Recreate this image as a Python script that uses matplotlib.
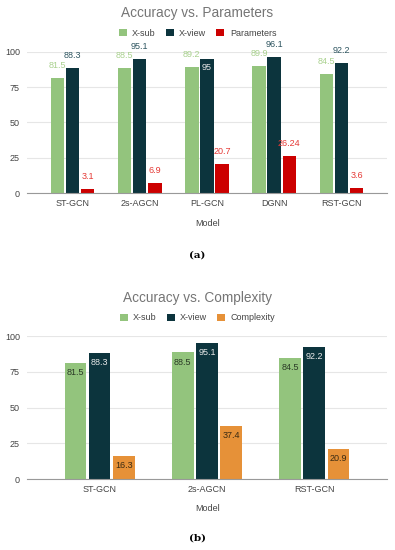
import matplotlib.pyplot as plt
import numpy as np

plt.rcParams['font.family'] = ['Liberation Sans', 'DejaVu Sans']

# chart (a)
models_a = ['ST-GCN', '2s-AGCN', 'PL-GCN', 'DGNN', 'RST-GCN']
xsub_a = [81.5, 88.5, 89.2, 89.9, 84.5]
xview_a = [88.3, 95.1, 95, 96.1, 92.2]
params_a = [3.1, 6.9, 20.7, 26.24, 3.6]
param_labels = ['3.1', '6.9', '20.7', '26.24', '3.6']

# chart (b)
models_b = ['ST-GCN', '2s-AGCN', 'RST-GCN']
xsub_b = [81.5, 88.5, 84.5]
xview_b = [88.3, 95.1, 92.2]
complexity_b = [16.3, 37.4, 20.9]

GREEN = '#93c47d'
DARK = '#0c343d'
RED = '#cc0000'
ORANGE = '#e69138'
TITLE_C = '#757575'
TICK_C = '#444444'

fig = plt.figure(figsize=(3.95, 5.5), dpi=100)


def style_axes(ax, n):
    ax.set_ylim(0, 100)
    ax.set_yticks([0, 25, 50, 75, 100])
    ax.set_xlim(-0.68, n - 1 + 0.68)
    ax.grid(axis='y', color='#e6e6e6', linewidth=0.8)
    ax.set_axisbelow(True)
    for s in ['top', 'right', 'left']:
        ax.spines[s].set_visible(False)
    ax.spines['bottom'].set_color('#999999')
    ax.tick_params(axis='both', length=0, labelsize=6.5, colors=TICK_C, pad=4)
    ax.tick_params(axis='y', pad=5)


def legend_row(handles, labels, y):
    fig.legend(handles, labels, loc='center', bbox_to_anchor=(0.5, y), ncol=3,
               frameon=False, fontsize=6.5, handlelength=0.9, handleheight=0.9,
               columnspacing=1.1, handletextpad=0.6, labelcolor=TICK_C)


# ---------- (a) ----------
ax1 = fig.add_axes([0.068, 0.649, 0.912, 0.257])
x = np.arange(len(models_a))
w = 0.2
gap = 0.025
b1 = ax1.bar(x - w - gap, xsub_a, w, color=GREEN, label='X-sub')
b2 = ax1.bar(x, xview_a, w, color=DARK, label='X-view')
b3 = ax1.bar(x + w + gap, params_a, w, color=RED, label='Parameters')
style_axes(ax1, len(models_a))
ax1.set_xticks(x)
ax1.set_xticklabels(models_a)

for r, v in zip(b1, xsub_a):
    ax1.annotate(str(v), (r.get_x() + r.get_width() / 2, v), xytext=(0, 9),
                 textcoords='offset points', ha='center', va='center',
                 fontsize=6.5, color='#a9d18e')
for r, v in zip(b2, xview_a):
    if v == 95:
        ax1.annotate(str(v), (r.get_x() + r.get_width() / 2, v), xytext=(0, -6),
                     textcoords='offset points', ha='center', va='center',
                     fontsize=6.5, color='#e8e8e8')
    else:
        ax1.annotate(str(v), (r.get_x() + r.get_width() / 2, v), xytext=(0, 9),
                     textcoords='offset points', ha='center', va='center',
                     fontsize=6.5, color='#2e5560')
for r, v, t in zip(b3, params_a, param_labels):
    ax1.annotate(t, (r.get_x() + r.get_width() / 2, v), xytext=(0, 9),
                 textcoords='offset points', ha='center', va='center',
                 fontsize=6.5, color='#e53935')

fig.text(0.5, 0.976, 'Accuracy vs. Parameters', ha='center', va='center',
         fontsize=9.8, color=TITLE_C)
legend_row([b1, b2, b3], ['X-sub', 'X-view', 'Parameters'], 0.94)
fig.text(0.525, 0.593, 'Model', ha='center', va='center', fontsize=6.5, color=TICK_C)
fig.text(0.5, 0.536, '(a)', ha='center', va='center', fontsize=7.5,
         fontweight='bold', family='DejaVu Serif')

# ---------- (b) ----------
ax2 = fig.add_axes([0.068, 0.129, 0.912, 0.26])
x = np.arange(len(models_b))
c1 = ax2.bar(x - w - gap, xsub_b, w, color=GREEN, label='X-sub')
c2 = ax2.bar(x, xview_b, w, color=DARK, label='X-view')
c3 = ax2.bar(x + w + gap, complexity_b, w, color=ORANGE, label='Complexity')
style_axes(ax2, len(models_b))
ax2.set_xticks(x)
ax2.set_xticklabels(models_b)

for bars, vals, col in [(c1, xsub_b, '#2b3a26'), (c2, xview_b, '#e8e8e8'),
                        (c3, complexity_b, '#3a2a12')]:
    for r, v in zip(bars, vals):
        ax2.annotate(str(v), (r.get_x() + r.get_width() / 2, v), xytext=(0, -7),
                     textcoords='offset points', ha='center', va='center',
                     fontsize=6.5, color=col)

fig.text(0.5, 0.458, 'Accuracy vs. Complexity', ha='center', va='center',
         fontsize=9.8, color=TITLE_C)
legend_row([c1, c2, c3], ['X-sub', 'X-view', 'Complexity'], 0.422)
fig.text(0.525, 0.076, 'Model', ha='center', va='center', fontsize=6.5, color=TICK_C)
fig.text(0.5, 0.022, '(b)', ha='center', va='center', fontsize=7.5,
         fontweight='bold', family='DejaVu Serif')

plt.savefig('out.png', dpi=100)
